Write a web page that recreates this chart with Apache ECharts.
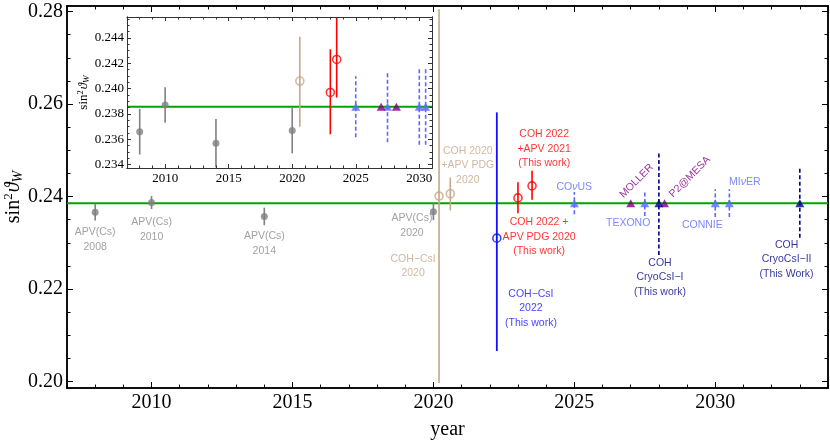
<!DOCTYPE html>
<html><head><meta charset="utf-8">
<script src="https://cdn.jsdelivr.net/npm/echarts@6/dist/echarts.min.js"></script>
<style>html,body{margin:0;padding:0;background:#fff}#c{width:830px;height:442px}</style>
</head><body><div id="c"></div>
<script>
// ---------------- data ----------------
const smValue = 0.23857;

const mainYearTicks = [2010, 2015, 2020, 2025, 2030];
const mainValueTicks = [0.20, 0.22, 0.24, 0.26, 0.28];
const insetYearTicks = [2010, 2015, 2020, 2025, 2030];
const insetValueTicks = [0.234, 0.236, 0.238, 0.240, 0.242, 0.244];

// APV(Cs) measurements (gray)
const apvYears  = [2008, 2010, 2014, 2020];
const apvValues = [0.2366, 0.2387, 0.2357, 0.2367];
const apvErrors = [0.0018, 0.0014, 0.0019, 0.0018];

// COH 2020 + APV PDG 2020 (tan, open)
const tanYears  = [2020.6];
const tanValues = [0.2406];
const tanLows   = [0.2370];
const tanHighs  = [0.2441];

// COH-CsI 2020 (tan, open, main plot only)
const csi2020Years  = [2020.2];
const csi2020Values = [0.2401];
const csi2020Lows   = [0.1997];
const csi2020Highs  = [0.2805];

// COH 2022 + APV (red, open)
const redYears  = [2023.0, 2023.5];
const redValues = [0.2397, 0.2423];
const redLows   = [0.2364, 0.2393];
const redHighs  = [0.2431, 0.2456];

// COH-CsI 2022 (blue, open, main only)
const csi2022Years  = [2022.25];
const csi2022Values = [0.2310];
const csi2022Lows   = [0.2066];
const csi2022Highs  = [0.2582];

// future experiments (light blue triangles, dashed)
const futureYears  = [2025.0, 2027.5, 2030.0, 2030.5];
const futureErrors = [0.0024, 0.0028, 0.0030, 0.0030];

// parity-violating electron scattering (purple triangles)
const pvesYears = [2027.0, 2028.2];

// COH CryoCsI (navy triangles, dashed, main only)
const cryoYears  = [2028.0, 2033.0];
const cryoErrors = [0.0112, 0.0075];

// annotations
const labelTexts = [
  'APV(Cs)\n2008', 'APV(Cs)\n2010', 'APV(Cs)\n2014', 'APV(Cs)\n2020',
  'COH−CsI\n2020', 'COH 2020\n+APV PDG\n2020',
  'COH 2022\n+APV 2021\n(This work)', 'COH 2022 +\nAPV PDG 2020\n(This work)',
  'COH−CsI\n2022\n(This work)',
  'CO{i|ν}US', 'TEXONO', 'CONNIE', 'MI{i|ν}ER',
  'COH\nCryoCsI−I\n(This work)', 'COH\nCryoCsI−II\n(This Work)',
  'MOLLER', 'P2@MESA'
];
const labelYears  = [2008.0, 2010.0, 2014.0, 2019.24, 2019.28, 2021.22, 2023.93, 2023.75, 2023.46,
                     2025.0, 2026.91, 2029.54, 2031.05, 2028.04, 2032.53, 2027.21, 2029.1];
const labelValues = [0.23066, 0.23282, 0.22980, 0.23369, 0.22493, 0.2467, 0.25033, 0.23127, 0.21585,
                     0.24208, 0.23416, 0.23379, 0.24316, 0.22255, 0.22644, 0.24337, 0.24424];
const labelGroups = ['gray','gray','gray','gray','tan','tan','red','red','blue',
                     'light','light','light','light','navy','navy','purple','purple'];

// ---------------- styling ----------------
const C = {
  gray: '#808080', grayText: '#8a8a8a', tan: '#c4a887', red: '#ff0000', blue: '#1010ff',
  light: '#5a6aff', purple: '#800080', navy: '#00008b', green: '#00a400'
};
const labelColor = { gray: C.grayText, tan: C.tan, red: C.red, blue: C.blue, light: C.light, navy: C.navy, purple: C.purple };
const SERIF = 'Liberation Serif';
const SANS = 'Liberation Sans';

function range(a, b, step, dec) {
  const out = [];
  for (let k = 0; a + k * step <= b + step * 1e-6; k++) out.push(+(a + k * step).toFixed(dec));
  return out;
}

const MAIN = { xMin: 2007, xMax: 2034, yMin: 0.1986, yMax: 0.2812 };
const INS  = { xMin: 2007, xMax: 2031, yMin: 0.23374, yMax: 0.24565 };

function axisSet(dim, gridIndex, min, max, majors, minors, o) {
  const pos = dim === 'x' ? ['bottom', 'top'] : ['left', 'right'];
  const base = (position, vals, len, showLabel, extra) => Object.assign({
    type: 'value', gridIndex, position, min, max, z: o.z,
    axisLine: { show: true, onZero: false, lineStyle: { color: o.lineColor, width: o.lineWidth } },
    axisTick: { show: true, inside: true, length: len, customValues: vals, lineStyle: { color: o.lineColor, width: 1 } },
    axisLabel: showLabel ? { show: true, customValues: vals, margin: o.margin, fontFamily: SERIF, fontSize: o.fontSize, color: '#000', formatter: o.fmt } : { show: false },
    splitLine: { show: false }
  }, extra || {});
  return [
    base(pos[0], majors, o.major, true, o.nameOpts),
    base(pos[0], minors, o.minor, false),
    base(pos[1], majors, o.major, false),
    base(pos[1], minors, o.minor, false)
  ];
}

function sinTitle(size, gap) {
  return {
    name: '{r|sin}{p|2}{i|ϑ}{s|W}', nameLocation: 'middle', nameRotate: 90, nameGap: gap, nameMoveOverlap: false,
    nameTextStyle: { rich: {
      r: { fontFamily: SERIF, fontSize: size, color: '#000' },
      p: { fontFamily: SERIF, fontSize: size * 0.65, color: '#000', padding: [0, 1, size * 0.45, 0] },
      i: { fontFamily: SERIF, fontSize: size, fontStyle: 'italic', color: '#000' },
      s: { fontFamily: SERIF, fontSize: size * 0.7, fontStyle: 'italic', color: '#000', padding: [size * 0.45, 0, 0, 0] }
    } }
  };
}

const xAxes = [
  ...axisSet('x', 0, MAIN.xMin, MAIN.xMax, mainYearTicks, range(2007, 2034, 1, 0), {
    z: 0, lineColor: '#000', lineWidth: 1.5, major: 6, minor: 3.5, margin: 5, fontSize: 20, fmt: v => String(v),
    nameOpts: { name: 'year', nameLocation: 'middle', nameGap: 32, nameMoveOverlap: false, nameTextStyle: { fontFamily: SERIF, fontSize: 20, color: '#000' } }
  }),
  ...axisSet('x', 1, INS.xMin, INS.xMax, insetYearTicks, range(2007, 2031, 1, 0), {
    z: 5, lineColor: '#333', lineWidth: 1, major: 4, minor: 2.5, margin: 4, fontSize: 13, fmt: v => String(v)
  })
];

const yAxes = [
  ...axisSet('y', 0, MAIN.yMin, MAIN.yMax, mainValueTicks, range(0.20, 0.28, 0.005, 3), {
    z: 0, lineColor: '#000', lineWidth: 1.5, major: 6, minor: 3.5, margin: 4, fontSize: 20, fmt: v => v.toFixed(2),
    nameOpts: sinTitle(20, 42)
  }),
  ...axisSet('y', 1, INS.yMin, INS.yMax, insetValueTicks, range(0.234, 0.2455, 0.0005, 4), {
    z: 5, lineColor: '#333', lineWidth: 1, major: 4, minor: 2.5, margin: 3, fontSize: 13, fmt: v => v.toFixed(3),
    nameOpts: sinTitle(13, 36)
  })
];

// ---------------- series builders ----------------
function errBars(name, axis, xs, lows, highs, color, width, dashed) {
  return {
    type: 'custom', name, xAxisIndex: axis, yAxisIndex: axis, clip: true, z: 3,
    data: xs.map((x, i) => [x, lows[i], highs[i]]),
    encode: { x: 0, y: [1, 2] },
    renderItem: (params, api) => {
      const p1 = api.coord([api.value(0), api.value(1)]);
      const p2 = api.coord([api.value(0), api.value(2)]);
      return { type: 'line', shape: { x1: p1[0], y1: p1[1], x2: p2[0], y2: p2[1] },
        style: { stroke: color, lineWidth: width, lineDash: dashed ? [4, 2.5] : null } };
    }
  };
}
function markers(name, axis, xs, ys, color, kind, size) {
  const open = kind === 'open';
  return {
    type: 'scatter', name, xAxisIndex: axis, yAxisIndex: axis, z: 4,
    symbol: kind === 'tri' ? 'triangle' : 'circle',
    symbolSize: size,
    data: xs.map((x, i) => [x, ys[i]]),
    itemStyle: open ? { color: 'rgba(0,0,0,0)', borderColor: color, borderWidth: 1.6 } : { color },
    emphasis: { disabled: true }
  };
}
const sm = arr => arr.map(() => smValue);
const lo = (vals, errs) => vals.map((v, i) => +(v - errs[i]).toFixed(5));
const hi = (vals, errs) => vals.map((v, i) => +(v + errs[i]).toFixed(5));

function smLine(axis, range) {
  return {
    type: 'line', xAxisIndex: axis, yAxisIndex: axis, z: 2, symbol: 'none', silent: true,
    data: [[range.xMin, smValue], [range.xMax, smValue]],
    lineStyle: { color: C.green, width: 2 }
  };
}

function groupSeries(axis, withMainOnly, range) {
  const s = [smLine(axis, range)];
  s.push(errBars('apv', axis, apvYears, lo(apvValues, apvErrors), hi(apvValues, apvErrors), C.gray, 1.6, false));
  s.push(errBars('tan', axis, tanYears, tanLows, tanHighs, C.tan, 1.6, false));
  s.push(errBars('red', axis, redYears, redLows, redHighs, C.red, 1.6, false));
  s.push(errBars('future', axis, futureYears, lo(sm(futureYears), futureErrors), hi(sm(futureYears), futureErrors), C.light, 1.6, true));
  if (withMainOnly) {
    s.push(errBars('csi2020', axis, csi2020Years, csi2020Lows, csi2020Highs, C.tan, 1.6, false));
    s.push(errBars('csi2022', axis, csi2022Years, csi2022Lows, csi2022Highs, C.blue, 1.8, false));
    s.push(errBars('cryo', axis, cryoYears, lo(sm(cryoYears), cryoErrors), hi(sm(cryoYears), cryoErrors), C.navy, 1.6, true));
  }
  s.push(markers('apvM', axis, apvYears, apvValues, C.gray, 'fill', 7));
  s.push(markers('tanM', axis, tanYears, tanValues, C.tan, 'open', 8));
  s.push(markers('redM', axis, redYears, redValues, C.red, 'open', 8));
  s.push(markers('futureM', axis, futureYears, sm(futureYears), C.light, 'tri', [9, 8]));
  s.push(markers('pvesM', axis, pvesYears, sm(pvesYears), C.purple, 'tri', [9, 8]));
  if (withMainOnly) {
    s.push(markers('csi2020M', axis, csi2020Years, csi2020Values, C.tan, 'open', 8));
    s.push(markers('csi2022M', axis, csi2022Years, csi2022Values, C.blue, 'open', 8));
    s.push(markers('cryoM', axis, cryoYears, sm(cryoYears), C.navy, 'tri', [9, 8]));
  }
  return s;
}

// annotation series (text anchored in data coordinates)
const labelSeries = {
  type: 'scatter', xAxisIndex: 0, yAxisIndex: 0, z: 5, symbolSize: 0, silent: true,
  data: labelTexts.map((t, i) => ({
    value: [labelYears[i], labelValues[i]], name: t,
    label: {
      color: labelColor[labelGroups[i]],
      rotate: labelGroups[i] === 'purple' ? 45 : 0
    }
  })),
  label: {
    show: true, position: 'inside', formatter: '{b}', fontFamily: SANS, fontSize: 10.5, lineHeight: 14.5,
    align: 'center', verticalAlign: 'middle',
    rich: { i: { fontFamily: SANS, fontSize: 10.5, fontStyle: 'italic' } }
  }
};

const option = {
  backgroundColor: '#fff',
  animation: false,
  grid: [
    { left: 67, right: 2, top: 6, bottom: 54, show: false, containLabel: false, outerBoundsMode: 'none' },
    { left: 127, top: 17, width: 305, height: 151, show: true, backgroundColor: '#fff', borderWidth: 0, z: 1, containLabel: false, outerBoundsMode: 'none' }
  ],
  xAxis: xAxes,
  yAxis: yAxes,
  series: [...groupSeries(0, true, MAIN), ...groupSeries(4, false, INS), labelSeries]
};

echarts.init(document.getElementById('c'), null, { renderer: 'canvas' }).setOption(option);
</script></body></html>
